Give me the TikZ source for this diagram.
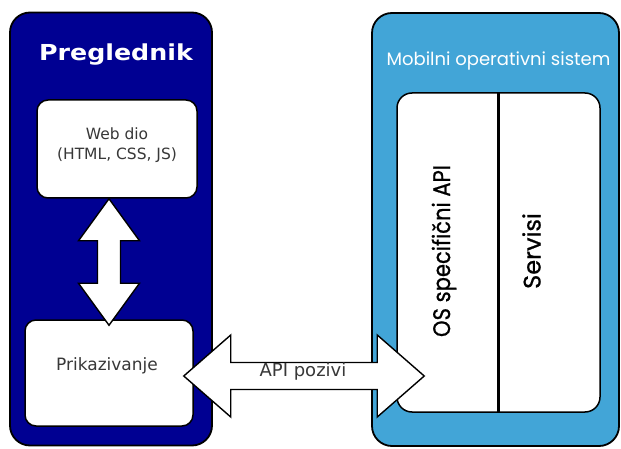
\documentclass[tikz,border=0pt]{standalone}
\usepackage{fontspec}
\setmainfont{DejaVu Sans}
\newfontfamily\popfont{Poppins}
\newfontfamily\popfontb{Poppins}[FakeBold=0.8]
\usetikzlibrary{calc}
\definecolor{navyb}{HTML}{000092}
\definecolor{skyb}{HTML}{42A5D7}
\definecolor{txtgray}{HTML}{383838}
\begin{document}
\begin{tikzpicture}[x=1pt,y=-1pt,
  bigbox/.style={draw=black,line width=1.8pt,rounded corners=20pt,inner sep=0pt},
  whitebox/.style={draw=black,line width=1.5pt,fill=white,rounded corners=11pt,inner sep=0pt},
  blockarrow/.style={draw=black,line width=1.4pt,fill=white,line join=miter},
  lefttxt/.style={text=txtgray,font=\fontsize{15.5}{20}\selectfont,align=center,inner sep=0pt},
  rottxt/.style={text=black,font=\popfontb\fontsize{24}{28}\selectfont,rotate=90,inner sep=0pt}]
\useasboundingbox (0,0) rectangle (621,449);
% containers
\node[bigbox,fill=navyb,minimum width=202pt,minimum height=433pt] (browser) at (111,229) {};
\node[bigbox,fill=skyb,minimum width=247pt,minimum height=433pt] (mobile) at (495.5,229.5) {};
\node[text=white,font=\bfseries\fontsize{22}{26}\selectfont,inner sep=0pt] (brtitle) at (116,55) {\scalebox{1.15}[1]{Preglednik}};
\node[text=white,font=\popfont\fontsize{18}{22}\selectfont,inner sep=0pt] (mobtitle) at (498.5,61) {Mobilni operativni sistem};
% inner boxes
\node[whitebox,minimum width=160pt,minimum height=98pt] (web) at (117,149) {};
\node[lefttxt] (webtxt) at ($(web.center)+(0,-4)$) {Web dio\\(HTML, CSS, JS)};
\node[whitebox,minimum width=168pt,minimum height=106pt] (prik) at (109,373) {};
\node[lefttxt,font=\fontsize{17}{20}\selectfont] (priktxt) at ($(prik.center)+(-2,-7)$) {Prikazivanje};
\node[whitebox,rounded corners=15pt,minimum width=203pt,minimum height=319pt] (inner) at (498.5,252.5) {};
\draw[line width=3pt] (inner.north) -- (inner.south);
\node[rottxt] (osapi) at (444,251) {\scalebox{0.88}[1]{OS specifični API}};
\node[rottxt] (servisi) at (531.5,251) {Servisi};
% vertical double arrow
\coordinate (vt) at (prik.north |- web.south);
\coordinate (vb) at ($(prik.north)+(0,6)$);
\draw[blockarrow] (vt) -- ++(30.5,42) -- ++(-19,0) -- ($(vb)+(11.5,-42)$) -- ++(19,0) -- (vb)
  -- ++(-30.5,-42) -- ++(19,0) -- ($(vt)+(-11.5,42)$) -- ++(-19,0) -- cycle;
% horizontal double arrow
\coordinate (hl) at ($(prik.east)+(-10,3)$);
\coordinate (hr) at (hl -| inner.west);
\coordinate (hr) at ($(hr)+(28,0)$);
\draw[blockarrow] (hl) -- ++(47,-41) -- ++(0,27.5) -- ($(hr)+(-47,-13.5)$) -- ++(0,-27.5) -- (hr)
  -- ++(-47,41) -- ++(0,-27.5) -- ($(hl)+(47,13.5)$) -- ++(0,27.5) -- cycle;
\node[text=txtgray,font=\fontsize{18}{20}\selectfont,inner sep=0pt] (apitxt) at (303,372) {API pozivi};
\end{tikzpicture}
\end{document}
